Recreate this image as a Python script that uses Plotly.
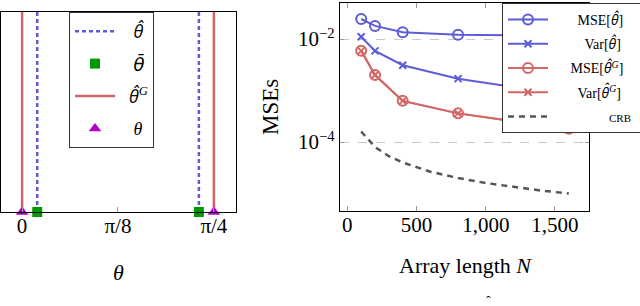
import plotly.graph_objects as go

# ---------------- data ----------------
# left panel (angles in rad)
theta_true = [0.0, 0.7854]          # θ
theta_bar = [0.062, 0.724]          # θ̄
theta_hat = [0.062, 0.724]          # θ̂
theta_G = [0.0, 0.7854]             # θ̂^G
left_ticks = [0.0, 0.3927, 0.7854]
left_ticktext = ["0", "π/8", "π/4"]

# right panel
N = [100, 200, 400, 800, 1600]
mse_hat = [0.0245, 0.018, 0.0135, 0.0121, 0.0115]
var_hat = [0.0111, 0.0059, 0.0031, 0.0017, 0.00080]
mse_G = [0.0059, 0.0020, 0.00063, 0.00036, 0.00018]
var_G = [0.0059, 0.0020, 0.00063, 0.00036, 0.00018]
N_crb = [100, 200, 300, 400, 600, 800, 1000, 1200, 1400, 1600]
crb = [1.6e-4, 8.0e-5, 5.3e-5, 4.0e-5, 2.65e-5, 2.0e-5, 1.6e-5, 1.33e-5, 1.14e-5, 1.0e-5]
right_xticks = [0, 500, 1000, 1500]
right_xticktext = ["0", "500", "1,000", "1,500"]
right_yticks = [1e-2, 1e-4]
right_yticktext = ["10<sup>−2</sup>", "10<sup>−4</sup>"]

BLUE = "#5c5cd8"
RED = "#d46666"
GREEN = "#009a00"
PURPLE = "#b000c8"
GRAY = "#555555"
FONT = "Liberation Serif"

W, H = 640, 306
def fx(px):
    return px / W
def fy(py):
    return 1 - py / H

def sp(style, txt):
    return '<span style="%s">%s</span>' % (style, txt)

NB = "\u00a0"
HAT = sp("font-family:Open Sans", "<i>θ\u0302</i>")
BAR = sp("font-family:DejaVu Sans", "<i>θ\u0304</i>")
G = "<sup><i>G</i></sup>"

fig = go.Figure()

# ---- left panel ----
def vlines(xs, name, color, dash, group):
    for i, x in enumerate(xs):
        fig.add_trace(go.Scatter(
            x=[x, x], y=[0, 1], mode="lines", name=name,
            line=dict(color=color, width=2.5, dash=dash),
            xaxis="x", yaxis="y", legend="legend",
            legendgroup=group, showlegend=(i == 0)))

vlines(theta_hat, NB * 3 + HAT, BLUE, "4px,3px", "a")
fig.add_trace(go.Scatter(x=theta_bar, y=[0, 0], mode="markers", name=NB * 3 + BAR,
                         marker=dict(symbol="square", size=10, color=GREEN),
                         cliponaxis=False, xaxis="x", yaxis="y", legend="legend",
                         legendgroup="b"))
vlines(theta_G, NB * 2 + HAT + G, RED, "solid", "c")
fig.add_trace(go.Scatter(x=theta_true, y=[0, 0], mode="markers", name=NB * 3 + "<i>θ</i>",
                         marker=dict(symbol="triangle-up", size=11, color=PURPLE),
                         cliponaxis=False, xaxis="x", yaxis="y", legend="legend",
                         legendgroup="d"))

# ---- right panel ----
def series(x, y, name, color, symbol, size, group):
    fig.add_trace(go.Scatter(
        x=x, y=y, mode="lines+markers", name=name,
        line=dict(color=color, width=2),
        marker=dict(symbol=symbol, size=size, color=color,
                    line=dict(color=color, width=2)),
        xaxis="x2", yaxis="y2", legend="legend2", legendgroup=group))

series(N, mse_hat, NB * 7 + "MSE[" + HAT + "]" + NB * 2, BLUE, "circle-open", 10, "e")
series(N, var_hat, NB * 9 + "Var[" + HAT + "]" + NB * 2, BLUE, "x-thin", 7, "f")
series(N, mse_G, NB * 5 + "MSE[" + HAT + G + "]" + NB * 2, RED, "circle-open", 10, "g")
series(N, var_G, NB * 7 + "Var[" + HAT + G + "]" + NB * 2, RED, "x-thin", 7, "h")
fig.add_trace(go.Scatter(x=N_crb, y=crb, mode="lines",
                         name=NB * 16 + sp("font-size:11px", "CRB") + NB * 2,
                         line=dict(color=GRAY, width=2.5, dash="6px,5px"),
                         xaxis="x2", yaxis="y2", legend="legend2", legendgroup="i"))

tickfont = dict(family=FONT, size=21, color="black")

fig.update_layout(
    width=W, height=H, autosize=False,
    margin=dict(l=0, r=0, t=0, b=0, pad=0, autoexpand=False),
    plot_bgcolor="white", paper_bgcolor="white",
    font=dict(family=FONT, color="black"),
    xaxis=dict(domain=[fx(1), fx(236)], range=[-0.0864, 0.876], automargin=False,
               tickvals=left_ticks, ticktext=left_ticktext, tickfont=tickfont,
               ticks="inside", ticklen=5, tickcolor="#999999", ticklabelstandoff=-5,
               showline=True, linecolor="black", linewidth=1.2, zeroline=False,
               mirror=True, showgrid=False),
    yaxis=dict(domain=[fy(212), fy(12)], range=[0, 1], automargin=False,
               showticklabels=False, ticks="", mirror=True, showgrid=False,
               showline=True, linecolor="black", linewidth=1.2, zeroline=False),
    xaxis2=dict(domain=[fx(340), fx(589)], range=[-53, 1746], anchor="y2",
                automargin=False,
                tickvals=right_xticks, ticktext=right_xticktext, tickfont=tickfont,
                ticks="inside", ticklen=5, tickcolor="#999999", ticklabelstandoff=-5,
                showline=True, linecolor="black", linewidth=1.2, zeroline=False,
                mirror="ticks", showgrid=False),
    yaxis2=dict(domain=[fy(211), fy(3)], type="log", range=[-5.34, -1.30],
                anchor="x2", automargin=False,
                tickvals=right_yticks, ticktext=right_yticktext,
                tickfont=tickfont,
                ticks="inside", ticklen=4, tickcolor="#999999",
                showline=True, linecolor="black", linewidth=1.2, zeroline=False,
                mirror="ticks", showgrid=True, gridcolor="#c8c8c8",
                griddash="dash", gridwidth=1),
    legend=dict(x=fx(69), y=fy(12), xanchor="left", yanchor="top",
                bgcolor="white", bordercolor="#333333", borderwidth=1,
                font=dict(family=FONT, size=18), itemwidth=40,
                tracegroupgap=6),
    legend2=dict(x=fx(502), y=fy(3), xanchor="left", yanchor="top",
                 bgcolor="white", bordercolor="#333333", borderwidth=1,
                 font=dict(family=FONT, size=14), itemwidth=40,
                 tracegroupgap=3),
    annotations=[
        dict(text="<i>θ</i>", x=fx(118), y=fy(272), xref="paper", yref="paper",
             xanchor="center", yanchor="middle",
             showarrow=False, font=dict(family=FONT, size=22)),
        dict(text="Array length <i>N</i>", x=fx(465), y=fy(265), xref="paper",
             yref="paper", xanchor="center", yanchor="middle",
             showarrow=False, font=dict(family=FONT, size=22)),
        dict(text="MSEs", x=fx(270), y=fy(107), xref="paper", yref="paper",
             xanchor="center", yanchor="middle",
             textangle=-90, showarrow=False, font=dict(family=FONT, size=23)),
        dict(text="ˆ", x=fx(488), y=fy(301), xref="paper", yref="paper",
             xanchor="center", yanchor="middle",
             showarrow=False, font=dict(family=FONT, size=14)),
    ],
)

fig.write_html("out.html", config={"displayModeBar": False},
               post_script="document.body.style.margin='0';document.body.style.overflow='hidden';")
